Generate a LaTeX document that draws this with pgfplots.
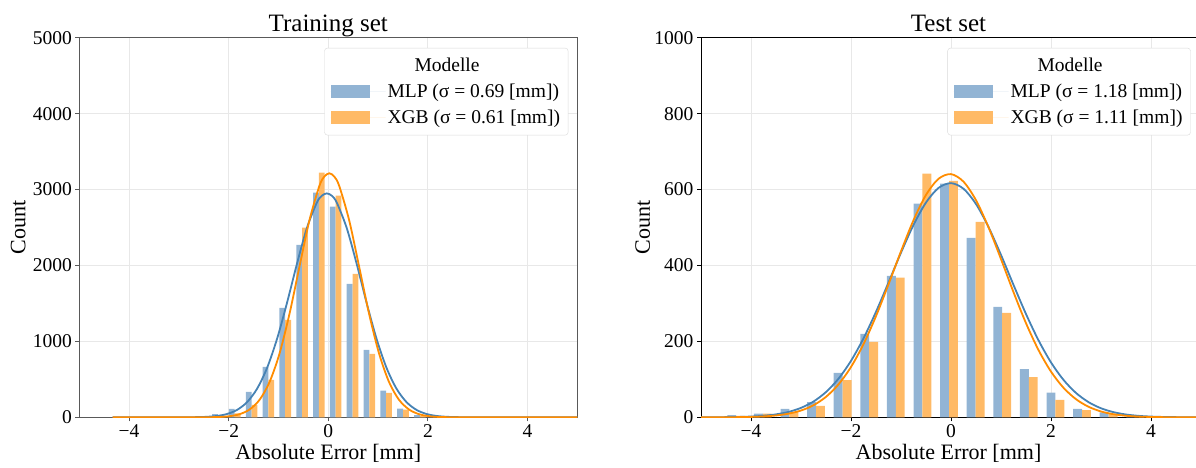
\documentclass[border=0pt]{standalone}
\usepackage{fontspec}
\setmainfont{Liberation Serif}
\usepackage{pgfplots}
\usepackage{pgfplotstable}
\pgfplotsset{compat=1.18}
\definecolor{mlpbar}{HTML}{92B4D4}
\definecolor{xgbbar}{HTML}{FFBA66}
\definecolor{mlpline}{HTML}{4682B4}
\definecolor{xgbline}{HTML}{FF8C00}
\definecolor{gridc}{HTML}{E8E8E8}

\pgfplotstableread{
xb xo mlp xgb
-2.613 -2.497 14 3
-2.275 -2.159 42 10
-1.937 -1.821 110 53
-1.599 -1.483 334 163
-1.261 -1.145 664 492
-0.923 -0.807 1442 1284
-0.585 -0.469 2273 2498
-0.248 -0.132 2960 3223
0.090 0.206 2775 2920
0.428 0.544 1759 1891
0.766 0.882 888 835
1.104 1.220 352 321
1.442 1.558 114 100
1.780 1.896 28 16
}\trainbars

\pgfplotstableread{
xb xo mlp xgb
-4.385 -4.207 6 4
-3.853 -3.675 10 10
-3.321 -3.143 22 14
-2.789 -2.611 40 30
-2.257 -2.079 117 98
-1.725 -1.547 220 199
-1.193 -1.015 373 368
-0.661 -0.483 563 642
-0.129 0.049 616 623
0.403 0.581 473 515
0.935 1.113 291 275
1.467 1.645 127 106
1.999 2.177 65 46
2.531 2.709 22 19
3.063 3.241 13 9
3.595 3.773 3 2
}\testbars

\pgfplotsset{
  myaxis/.style={
    scale only axis, height=379.5pt,
    xmin=-5, ymin=0,
    xtick={-4,-2,0,2,4}, xticklabels={−4,−2,0,2,4},
    tick align=outside, major tick length=4pt,
    xtick pos=left, ytick pos=left,
    grid=major, major grid style={color=gridc, line width=0.9pt},
    ticklabel style={font=\fontsize{19.5}{22}\selectfont},
    xlabel={Absolute Error [mm]}, ylabel={Count},
    xlabel style={font=\fontsize{22}{26}\selectfont, at={(axis description cs:0.5,-0.095)}, anchor=center},
    title style={font=\fontsize{25}{30}\selectfont, at={(axis description cs:0.5,1)}, anchor=base, yshift=0pt},
    legend cell align=left,
    legend style={anchor=north east, draw=black!15, rounded corners=3pt, fill=white,
      font=\fontsize{19.5}{22}\selectfont, inner xsep=6pt, inner ysep=8pt, row sep=7pt},
  },
  mlpleg/.style={legend image code/.code={\fill[mlpbar, sharp corners] (0pt,-6.7pt) rectangle (39pt,6.7pt); \path (0pt,0pt) -- (55pt,0pt);}},
  xgbleg/.style={legend image code/.code={\fill[xgbbar, sharp corners] (0pt,-6.7pt) rectangle (39pt,6.7pt); \path (0pt,0pt) -- (55pt,0pt);}},
}

\begin{document}
\begin{tikzpicture}
\useasboundingbox (0,0) rectangle (1196pt,467pt);
% ---------- Training set ----------
\begin{axis}[myaxis,
  at={(79.3pt,49.7pt)}, width=498pt,
  xmax=5, ymax=5000,
  ytick={0,1000,2000,3000,4000,5000},
  yticklabels={0,1000,2000,3000,4000,5000},
  axis line style={line width=1pt, black!65},
  tick style={line width=0.9pt, black!65},
  ylabel style={font=\fontsize{22}{26}\selectfont, at={(axis description cs:-0.1225,0.5)}, anchor=center},
  title={Training set},
  legend style={at={(0.982,0.9735)}},
]
\addlegendimage{empty legend}
\addlegendentry{\hspace*{27pt}Modelle}
\addplot[ybar, bar width=0.116, bar shift=0pt, fill=mlpbar, draw=none, mlpleg] table[x=xb,y=mlp]{\trainbars};
\addlegendentry{MLP (σ = 0.69 [mm])}
\addplot[ybar, bar width=0.116, bar shift=0pt, fill=xgbbar, draw=none, xgbleg] table[x=xo,y=xgb]{\trainbars};
\addlegendentry{XGB (σ = 0.61 [mm])}
\addplot[mlpline, line width=1.8pt, smooth, forget plot] coordinates {
(-4.33,0)(-3.5,0)(-3.03,0.2)(-2.63,2.4)(-2.43,7.0)(-2.23,18.3)(-2.03,44.2)(-1.83,98.2)(-1.63,200.5)(-1.43,376.6)(-1.23,650.2)(-1.03,1032)(-0.83,1506)(-0.63,2021)(-0.43,2494)(-0.23,2829)(-0.13,2919)(-0.03,2950)(0.07,2919)(0.17,2829)(0.37,2494)(0.57,2021)(0.77,1506)(0.97,1032)(1.17,650.2)(1.37,376.6)(1.57,200.5)(1.77,98.2)(1.97,44.2)(2.17,18.3)(2.37,7.0)(2.57,2.4)(2.97,0.2)(3.5,0)(5,0)};
\addplot[xgbline, line width=1.8pt, smooth, forget plot] coordinates {
(-4.33,0)(-3.5,0)(-2.98,0)(-2.58,0.4)(-2.38,1.4)(-2.18,4.8)(-1.98,14.9)(-1.78,41.3)(-1.58,103.1)(-1.38,230.8)(-1.18,464.2)(-0.98,838.8)(-0.78,1361)(-0.58,1982)(-0.38,2593)(-0.18,3047)(-0.08,3172)(0.02,3215)(0.12,3172)(0.22,3047)(0.42,2593)(0.62,1982)(0.82,1361)(1.02,838.8)(1.22,464.2)(1.42,230.8)(1.62,103.1)(1.82,41.3)(2.02,14.9)(2.22,4.8)(2.42,1.4)(2.62,0.4)(3.02,0)(3.5,0)(5,0)};
\end{axis}
% ---------- Test set ----------
\begin{axis}[myaxis,
  at={(701pt,49.7pt)}, width=495pt,
  xmax=4.9, ymax=1000,
  axis x line=box, axis y line*=left,
  x axis line style={-, line width=1pt, black},
  y axis line style={-, line width=1pt, black},
  ytick={0,200,400,600,800,1000},
  yticklabels={0,200,400,600,800,1000},
  tick style={line width=0.9pt, black},
  xlabel style={font=\fontsize{22}{26}\selectfont, at={(axis description cs:0.5,-0.095)}, anchor=center},
  ylabel style={font=\fontsize{22}{26}\selectfont, at={(axis description cs:-0.1178,0.5)}, anchor=center},
  title={Test set},
  legend style={at={(0.9893,0.9735)}},
]
\addlegendimage{empty legend}
\addlegendentry{\hspace*{27pt}Modelle}
\addplot[ybar, bar width=0.178, bar shift=0pt, fill=mlpbar, draw=none, mlpleg] table[x=xb,y=mlp]{\testbars};
\addlegendentry{MLP (σ = 1.18 [mm])}
\addplot[ybar, bar width=0.178, bar shift=0pt, fill=xgbbar, draw=none, xgbleg] table[x=xo,y=xgb]{\testbars};
\addlegendentry{XGB (σ = 1.11 [mm])}
\addplot[mlpline, line width=1.8pt, smooth, forget plot] coordinates {
(-5,0.08)(-4.5,0.44)(-4.25,0.97)(-4,2.03)(-3.75,4.06)(-3.5,7.77)(-3.25,14.2)(-3,24.9)(-2.75,41.6)(-2.5,66.6)(-2.25,101.8)(-2,148.8)(-1.75,208.1)(-1.5,278.0)(-1.25,355.2)(-1,433.9)(-0.75,506.9)(-0.5,566.0)(-0.25,604.4)(0,617.0)(0.25,602.2)(0.5,562.0)(0.75,501.4)(1,427.8)(1.25,348.9)(1.5,272.1)(1.75,202.9)(2,144.6)(2.25,98.6)(2.5,64.2)(2.75,40.0)(3,23.8)(3.25,13.6)(3.5,7.39)(3.75,3.85)(4,1.92)(4.25,0.91)(4.5,0.41)(5,0.07)};
\addplot[xgbline, line width=1.8pt, smooth, forget plot] coordinates {
(-5,0.03)(-4.5,0.19)(-4.25,0.47)(-4,1.07)(-3.75,2.33)(-3.5,4.84)(-3.25,9.54)(-3,17.9)(-2.75,31.8)(-2.5,53.9)(-2.25,86.7)(-2,132.7)(-1.75,192.9)(-1.5,266.7)(-1.25,350.4)(-1,437.5)(-0.75,519.4)(-0.5,586.1)(-0.25,628.5)(0,640.8)(0.25,620.9)(0.5,572.0)(0.75,500.7)(1,416.8)(1.25,329.7)(1.5,247.9)(1.75,177.2)(2,120.4)(2.25,77.8)(2.5,47.7)(2.75,27.8)(3,15.4)(3.25,8.14)(3.5,4.08)(3.75,1.94)(4,0.88)(4.25,0.38)(4.5,0.15)(5,0.02)};
\end{axis}
\end{tikzpicture}
\end{document}
